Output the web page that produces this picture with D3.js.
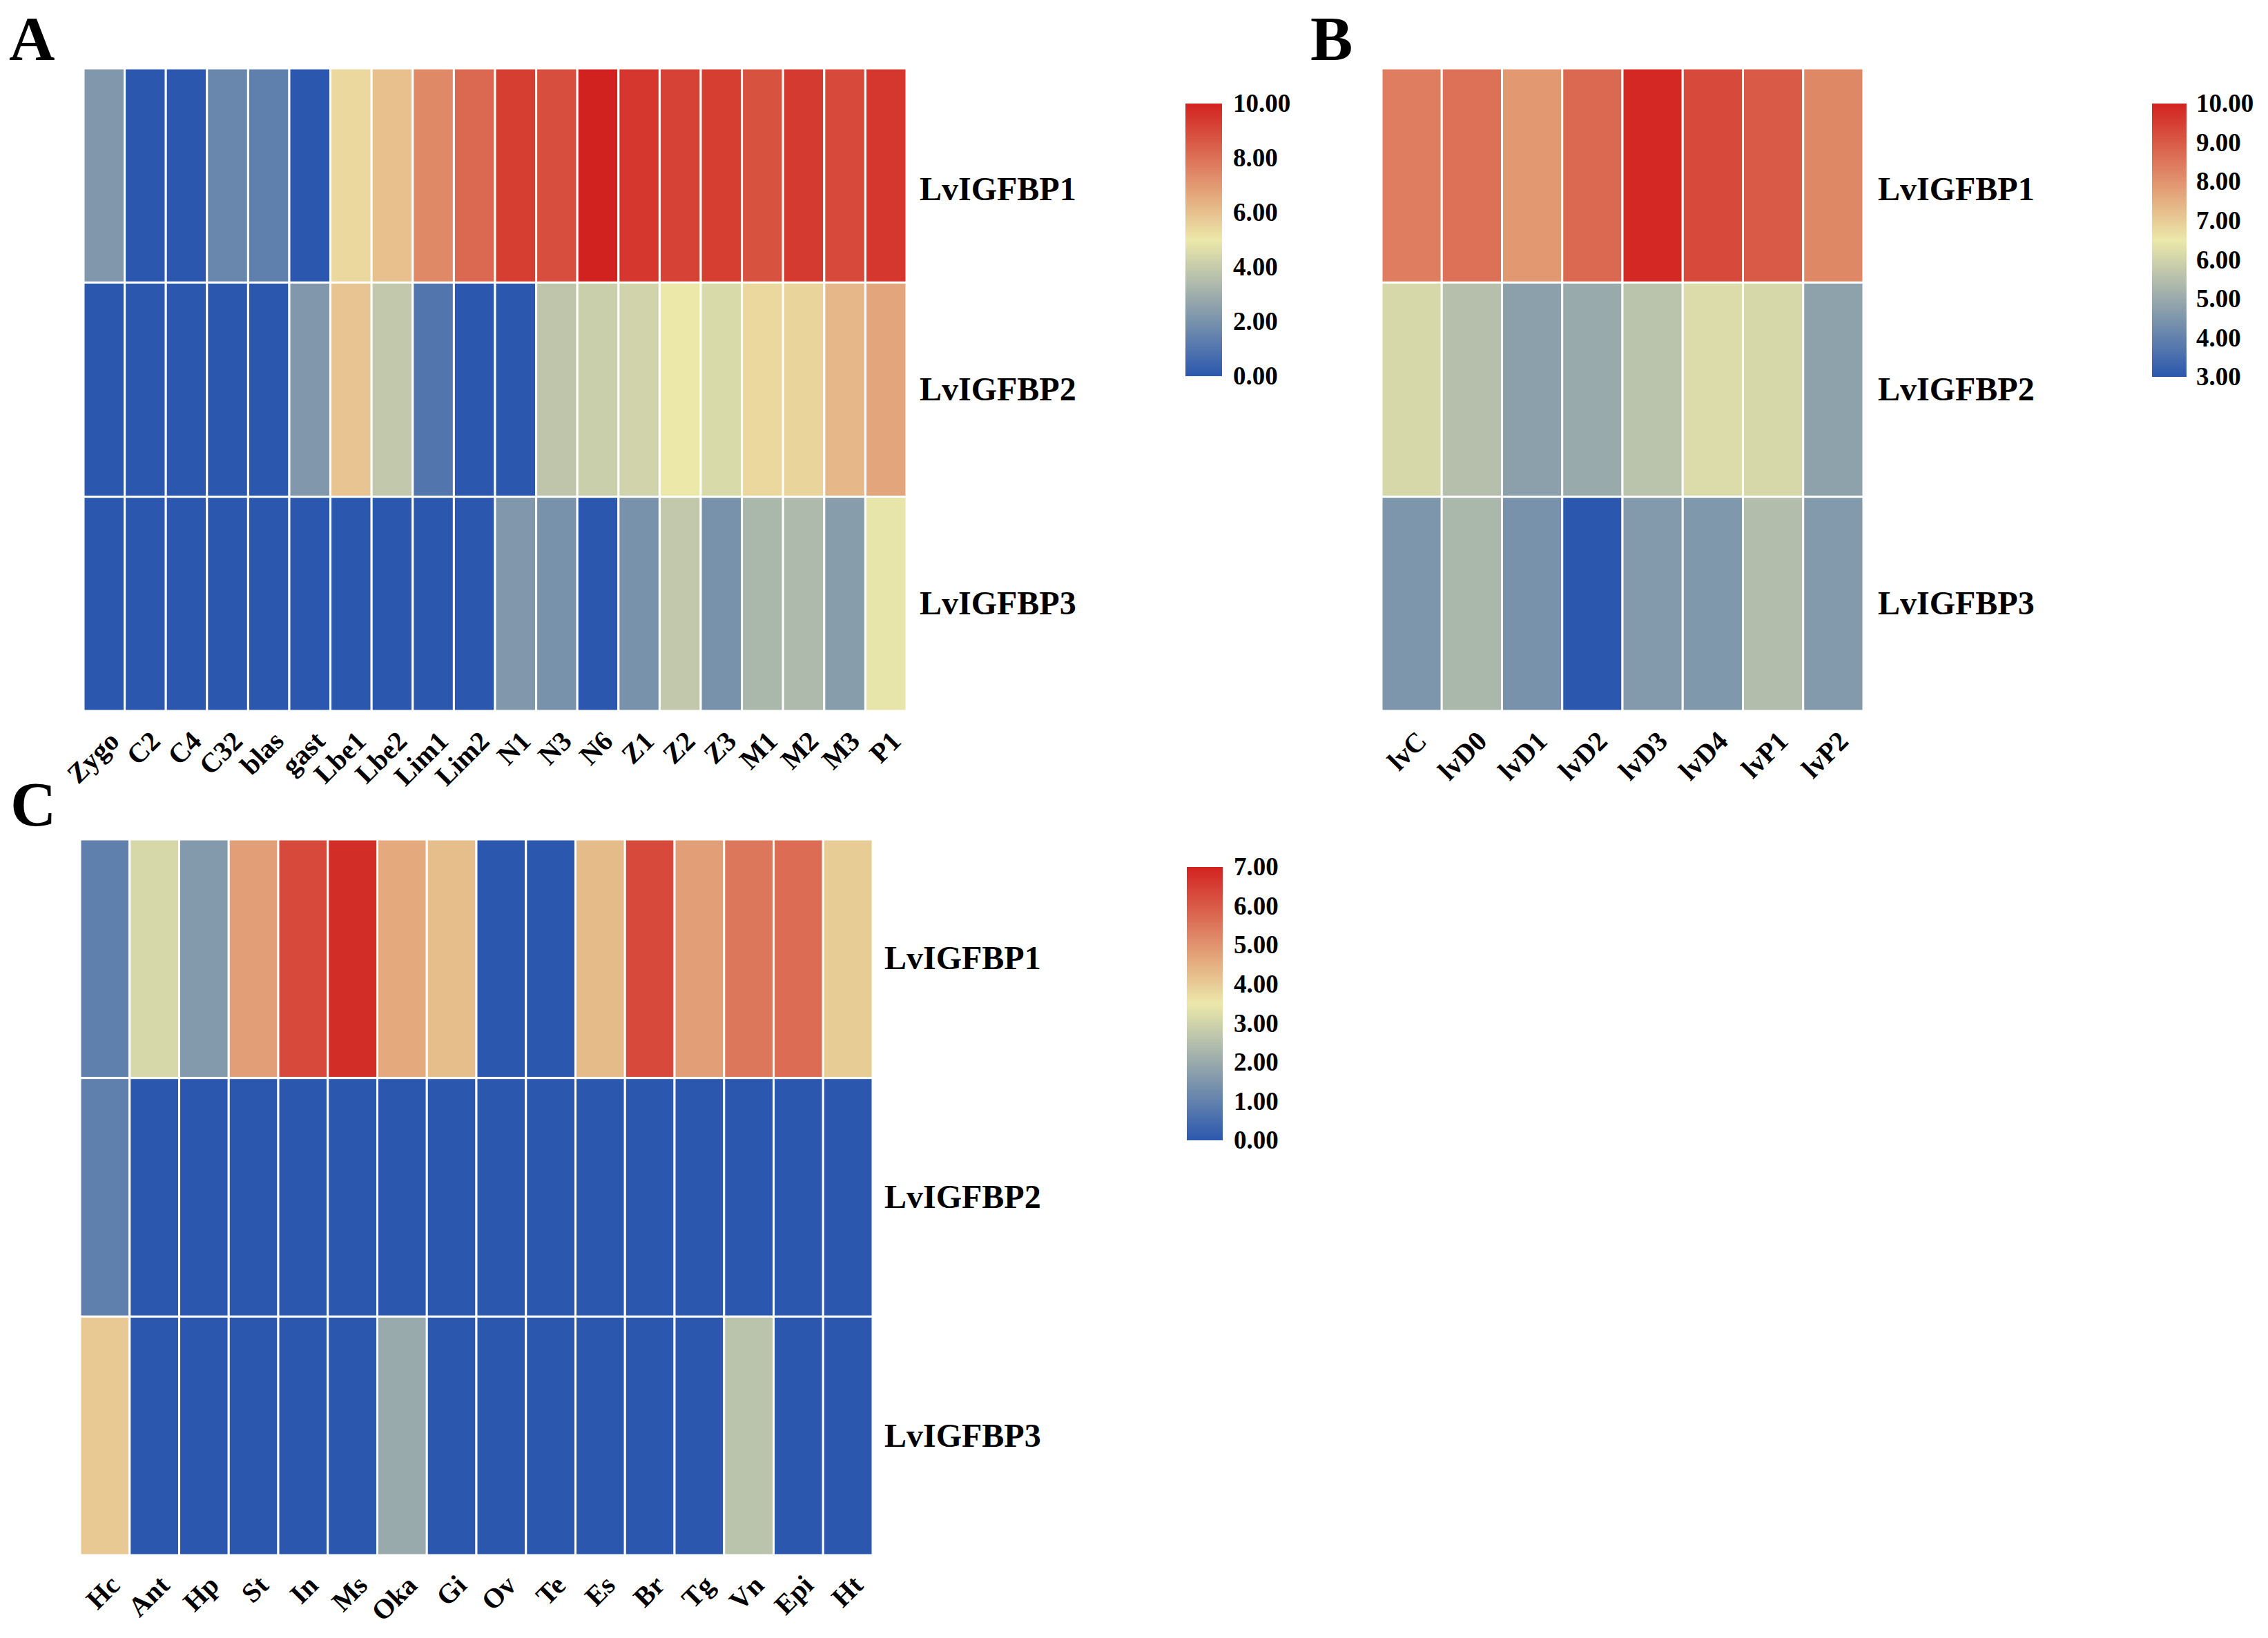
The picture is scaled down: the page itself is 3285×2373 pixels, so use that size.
<!DOCTYPE html>
<html>
<head>
<meta charset="utf-8">
<script src="https://cdn.jsdelivr.net/npm/d3@7"></script>
<style>
  body { margin: 0; background: #fff; }
  svg { display: block; font-family: "Liberation Serif", "Times New Roman", serif; font-weight: bold; }
</style>
</head>
<body>
<svg id="chart" width="3285" height="2373"></svg>
<script>
// genes (rows) shared by the three heatmaps
var genes = ["LvIGFBP1", "LvIGFBP2", "LvIGFBP3"];

// A: developmental stages
var stagesA = ["Zygo", "C2", "C4", "C32", "blas", "gast", "Lbe1", "Lbe2", "Lim1", "Lim2",
               "N1", "N3", "N6", "Z1", "Z2", "Z3", "M1", "M2", "M3", "P1"];
var igfbp1A = [2.2, 0, 0, 1.6, 1.35, 0, 5.4, 6.0, 7.4, 8.2, 9.3, 8.9, 10, 9.5, 9.2, 9.3, 8.8, 9.4, 9.0, 9.5];
var igfbp2A = [0, 0, 0, 0, 0, 2.2, 5.9, 3.9, 1.0, 0, 0, 3.8, 4.1, 4.3, 5.0, 4.5, 5.4, 5.5, 6.2, 6.7];
var igfbp3A = [0, 0, 0, 0, 0, 0, 0, 0, 0, 0, 2.2, 2.0, 0, 2.0, 3.9, 2.0, 3.3, 3.4, 2.4, 4.9];
var ticksA  = [0, 2, 4, 6, 8, 10];

// B: molting stages
var stagesB = ["lvC", "lvD0", "lvD1", "lvD2", "lvD3", "lvD4", "lvP1", "lvP2"];
var igfbp1B = [8.4, 8.6, 7.9, 8.75, 9.9, 9.3, 9.0, 8.2];
var igfbp2B = [6.1, 5.5, 4.75, 5.0, 5.6, 6.2, 6.1, 4.8];
var igfbp3B = [4.5, 5.3, 4.4, 3.0, 4.6, 4.55, 5.45, 4.6];
var ticksB  = [3, 4, 5, 6, 7, 8, 9, 10];

// C: tissues
var tissuesC = ["Hc", "Ant", "Hp", "St", "In", "Ms", "Oka", "Gi", "Ov", "Te", "Es", "Br", "Tg", "Vn", "Epi", "Ht"];
var igfbp1C = [0.95, 3.1, 1.6, 4.8, 6.3, 6.8, 4.6, 4.25, 0, 0, 4.3, 6.3, 4.8, 5.5, 5.7, 4.0];
var igfbp2C = [0.95, 0, 0, 0, 0, 0, 0, 0, 0, 0, 0, 0, 0, 0, 0, 0];
var igfbp3C = [4.05, 0, 0, 0, 0, 0, 2.0, 0, 0, 0, 0, 0, 0, 2.6, 0, 0];
var ticksC  = [0, 1, 2, 3, 4, 5, 6, 7];

var palette = ["#2b58ae", "#ece8aa", "#d2221f"];

var svg = d3.select("#chart");
var defs = svg.append("defs");

// axis groups come with their own sans-serif font; drop it so the serif is inherited
function plainAxis(a, size) {
  a.attr("font-family", null).attr("font-size", size);
  a.select(".domain").remove();
  a.selectAll("text").attr("fill", "#000");
}

function drawPanel(p) {
  var g = svg.append("g");

  var x = d3.scaleBand().domain(p.cols).range([p.x0, p.x1]);
  var y = d3.scaleBand().domain(genes).range([p.y0, p.y1]);
  var lo = d3.min(p.ticks), hi = d3.max(p.ticks);
  var color = d3.scaleLinear()
    .domain([lo, (lo + hi) / 2, hi])
    .range(palette)
    .interpolate(d3.interpolateRgb)
    .clamp(true);

  var cells = [];
  p.rows.forEach(function(vals, r) {
    vals.forEach(function(v, c) {
      cells.push({ gene: genes[r], col: p.cols[c], value: v });
    });
  });

  g.selectAll("rect.cell")
    .data(cells)
    .join("rect")
    .attr("class", "cell")
    .attr("x", d => x(d.col))
    .attr("y", d => y(d.gene))
    .attr("width", x.bandwidth())
    .attr("height", y.bandwidth())
    .attr("fill", d => color(d.value))
    .attr("stroke", "#fff")
    .attr("stroke-width", 3);

  // column labels
  g.append("g")
    .attr("transform", `translate(0,${p.y1})`)
    .call(d3.axisBottom(x).tickSize(0))
    .call(a => plainAxis(a, 40))
    .call(a => a.selectAll("text")
      .attr("x", 0).attr("y", 0).attr("dy", 0)
      .attr("transform", "translate(24,46) rotate(-45)")
      .style("text-anchor", "end"));

  // row labels
  g.append("g")
    .attr("transform", `translate(${p.x1},0)`)
    .call(d3.axisRight(y).tickSize(0).tickPadding(p.rowGap))
    .call(a => plainAxis(a, 48))
    .call(a => a.selectAll(".tick text")
      .attr("y", (d, i) => i === 0 ? p.firstShift : 0));

  // colour legend
  var gid = "grad" + p.letter;
  var grad = defs.append("linearGradient")
    .attr("id", gid)
    .attr("x1", 0).attr("y1", 1).attr("x2", 0).attr("y2", 0);
  d3.range(0, 1.0001, 0.05).forEach(function(t) {
    grad.append("stop")
      .attr("offset", t)
      .attr("stop-color", color(lo + t * (hi - lo)));
  });
  var ly = d3.scaleLinear().domain([lo, hi]).range([p.ly1, p.ly0]);
  g.append("rect")
    .attr("x", p.lx)
    .attr("y", p.ly0)
    .attr("width", p.lw)
    .attr("height", p.ly1 - p.ly0)
    .attr("fill", `url(#${gid})`);
  g.append("g")
    .attr("transform", `translate(${p.lx + p.lw},0)`)
    .call(d3.axisRight(ly).tickValues(p.ticks).tickFormat(d3.format(".2f")).tickSize(0).tickPadding(p.lgap))
    .call(a => plainAxis(a, 37));

  // panel letter
  g.append("text")
    .attr("x", p.tx)
    .attr("y", p.ty)
    .attr("font-size", 92)
    .text(p.letter);
}

drawPanel({
  letter: "A", cols: stagesA, rows: [igfbp1A, igfbp2A, igfbp3A], ticks: ticksA,
  x0: 121, x1: 1313, y0: 99, y1: 1030, rowGap: 19, firstShift: 20,
  lx: 1717, lw: 53, ly0: 150, ly1: 545, lgap: 16,
  tx: 13, ty: 87
});

drawPanel({
  letter: "B", cols: stagesB, rows: [igfbp1B, igfbp2B, igfbp3B], ticks: ticksB,
  x0: 2001, x1: 2699, y0: 99, y1: 1030, rowGap: 21, firstShift: 20,
  lx: 3117, lw: 50, ly0: 150, ly1: 546, lgap: 14,
  tx: 1898, ty: 87
});

drawPanel({
  letter: "C", cols: tissuesC, rows: [igfbp1C, igfbp2C, igfbp3C], ticks: ticksC,
  x0: 116, x1: 1264, y0: 1216, y1: 2253, rowGap: 17, firstShift: 0,
  lx: 1719, lw: 52, ly0: 1256, ly1: 1652, lgap: 16,
  tx: 15, ty: 1196
});
</script>
</body>
</html>
